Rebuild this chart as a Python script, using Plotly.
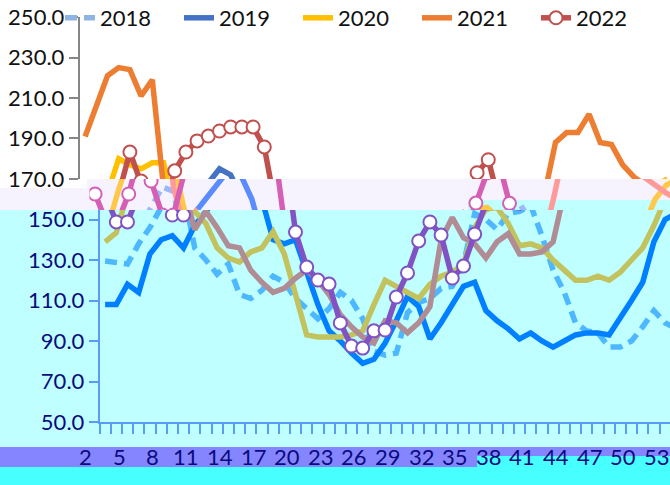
import plotly.graph_objects as go

# ---------------- data ----------------
weeks = list(range(1, 54))
x_tick_labels = list(range(2, 54, 3))
y_ticks_top = [170, 190, 210, 230, 250]
y_ticks_low = [50, 70, 90, 110, 130, 150]

s2018 = [129.5, 129, 128, 138, 146, 156, 166, 164, 136, 130, 123, 128, 113, 111, 115, 122, 119, 111,
         106, 101, 106, 114, 110, 101, 85, 83, 84, 104, 109, 111, 116, 117, 128, 153, 150, 145, 153,
         154, 157, 142, 125, 114, 99, 95, 94, 87, 87, 90, 97, 105, 99, 96, 95]
s2019 = [108, 108, 118, 114, 133, 140, 142, 136, 147, 154, 161, 169, 175, 172, 160, 140, 138, 140,
         124, 108, 95, 90, 84, 79, 81, 89, 100, 112, 107, 91, 99, 108, 117, 119, 105, 100, 96, 91,
         94, 90, 87, 90, 93, 94, 94, 93, 101, 110, 119, 139, 150, 153, 150]
s2020 = [139, 143.5, 163, 180, 177, 175, 178, 178, 154, 148, 136, 131, 129, 134, 136, 144, 133, 114,
         93, 92, 92, 92, 93, 95, 108, 120, 117, 114, 111, 118, 122, 124, 128, 146, 155, 156, 148,
         137, 138, 136, 130, 125, 120, 120, 122, 120, 124, 130, 136, 147, 160, 167, 170]
s2021 = [191, 207, 221, 225, 224, 211, 219, 166, 145, 154, 146, 137, 136, 125, 119, 114, 116, 121,
         125, 120, 113, 103, 97, 92, 89, 100, 99, 94, 99, 107, 140, 151, 141, 138, 131, 139, 143,
         133, 133, 134, 139, 162, 188, 193, 193, 202, 188, 187, 177, 171, 167, 163, 160]
s2022 = [162.6, 148.8, 148.8, 162.6, 183.3, 169, 152.2, 152.2, 174, 183.3, 188.8, 191.2, 193.7,
         195.7, 195.7, 195.7, 185.8, 143.8, 126.5, 120.1, 118.1, 98.9, 87.5, 86.5, 95, 95.4, 111.7,
         123.6, 139.4, 148.8, 142.3, 121.1, 127, 142.8, 158.1, 173.1, 179.5, 158]

series_names = ["2018", "2019", "2020", "2021", "2022"]
series_values = [s2018, s2019, s2020, s2021, s2022]

# ---------------- styling ----------------
W, H = 670, 485
FONT = "Lato, Carlito, Calibri, sans-serif"
CAT = 11.2          # pixel width of one week
PX_PER_UNIT = 2.025


def fx(p):
    return p / W


def fy(p):
    return 1 - p / H


# colour palettes of the three horizontal bands of the picture
pal_top = ["#8DB4E2", "#4472C4", "#FFC000", "#ED7D31", "#C0504D"]
pal_mid = ["#9CB8F8", "#5B8CFF", "#FFC84A", "#FF9A9A", "#D45FB5"]
pal_low = ["#4DB8FF", "#0080FF", "#C2C25E", "#B08C95", "#8052C4"]

bands = [
    # axis suffix, y-axis left px, y px top, y px bottom, palette
    ("", 79.5, 17, 179, pal_top),
    ("2", 89.5, 179, 210, pal_mid),
    ("3", 99.5, 210, 422, pal_low),
]

fig = go.Figure()
layout_axes = {}
for bi, (suf, xleft, ytop, ybot, pal) in enumerate(bands):
    xa = "x" + suf
    ya = "y" + suf
    vmax = 250 - (ytop - 17) / PX_PER_UNIT
    vmin = 250 - (ybot - 17) / PX_PER_UNIT
    layout_axes["xaxis" + suf] = dict(
        domain=[fx(xleft), 1], range=[0.5, 0.5 + (W - xleft) / CAT],
        anchor=ya, showgrid=False, zeroline=False, visible=False, automargin=False,
    )
    layout_axes["yaxis" + suf] = dict(
        domain=[fy(ybot), fy(ytop)], range=[vmin, vmax],
        anchor=xa, showgrid=False, zeroline=False, visible=False, automargin=False,
    )
    for si, (name, vals) in enumerate(zip(series_names, series_values)):
        is22 = name == "2022"
        fig.add_trace(go.Scatter(
            x=weeks[:len(vals)], y=vals, name=name,
            xaxis=xa, yaxis=ya,
            mode="lines+markers" if is22 else "lines",
            line=dict(color=pal[si], width=5.5,
                      dash="12px,7px" if name == "2018" else "solid"),
            marker=dict(symbol="circle", size=13, color="white",
                        line=dict(color=pal[si], width=2)) if is22 else None,
            showlegend=(bi == 0), legendrank=si, hoverinfo="skip",
        ))

# top band y axis (grey) and lower band axes (blue)
layout_axes["yaxis"].update(
    visible=True, showline=True, linecolor="#868686", linewidth=1.5,
    ticks="outside", ticklen=9, tickcolor="#868686", tickwidth=1.5,
    tickvals=y_ticks_top, ticktext=[f"{v:.1f}" for v in y_ticks_top],
    range=[169.98, 250.02],
    tickfont=dict(family=FONT, size=22, color="#111111"),
)
layout_axes["yaxis3"].update(
    visible=True, showline=True, linecolor="#5B9BF8", linewidth=1.5,
    ticks="outside", ticklen=9, tickcolor="#5B9BF8", tickwidth=1.5,
    tickvals=y_ticks_low, ticktext=[f"{v:.1f}" for v in y_ticks_low],
    tickfont=dict(family=FONT, size=22, color="#0B0B7D"),
)
layout_axes["xaxis3"].update(
    visible=True, showline=True, linecolor="#5B9BF8", linewidth=1.5,
    ticks="outside", ticklen=10, tickcolor="#5B9BF8", tickwidth=1.5,
    tickvals=[w - 0.5 for w in weeks], showticklabels=False,
)

# week labels: the label strip of the picture is displaced by 2.75 weeks
# relative to the lower plot band; positions come from that band's scale
LABEL_SHIFT = 2.75
low_left = bands[2][1]
annotations = []
for k in x_tick_labels:
    xpx = low_left + (k - LABEL_SHIFT - 0.5) * CAT
    annotations.append(dict(
        x=fx(xpx), xref="paper", y=fy(456), yref="paper",
        text=str(k), showarrow=False, xanchor="center", yanchor="middle",
        font=dict(family=FONT, size=22, color="#0B0B7D"),
    ))


def rect(x0, y0, x1, y1, c):
    return dict(type="rect", xref="paper", yref="paper", x0=fx(x0), x1=fx(x1),
                y0=fy(y1), y1=fy(y0), fillcolor=c, line=dict(width=0), layer="below")


shapes = [
    rect(87, 179, W, 210, "#F6F3FE"),
    rect(0, 188, 87, 210, "#F6F3FE"),
    rect(0, 210, W, 447, "#BFFFFF"),
    rect(468, 200, W, 210, "#BFFFFF"),
    rect(0, 447, 477, 467, "#8585FF"),
    rect(477, 447, W, 456, "#8585FF"),
    rect(0, 467, 477, H, "#48FFFF"),
    rect(477, 456, W, H, "#48FFFF"),
]

fig.update_layout(
    width=W, height=H, autosize=False,
    margin=dict(l=0, r=0, t=0, b=0, pad=0, autoexpand=False),
    paper_bgcolor="white", plot_bgcolor="rgba(0,0,0,0)",
    font=dict(family=FONT, size=22, color="#111111"),
    showlegend=True,
    legend=dict(orientation="h", x=fx(60), xanchor="left", y=1 + 3 / H, yanchor="top",
                bgcolor="rgba(0,0,0,0)", font=dict(family=FONT, size=22, color="#111111"),
                entrywidth=74, traceorder="normal", itemclick=False),
    shapes=shapes, annotations=annotations,
    **layout_axes,
)

fig.write_html("out.html", config={"displayModeBar": False},
               post_script="document.body.style.margin='0';document.body.style.overflow='hidden';")
